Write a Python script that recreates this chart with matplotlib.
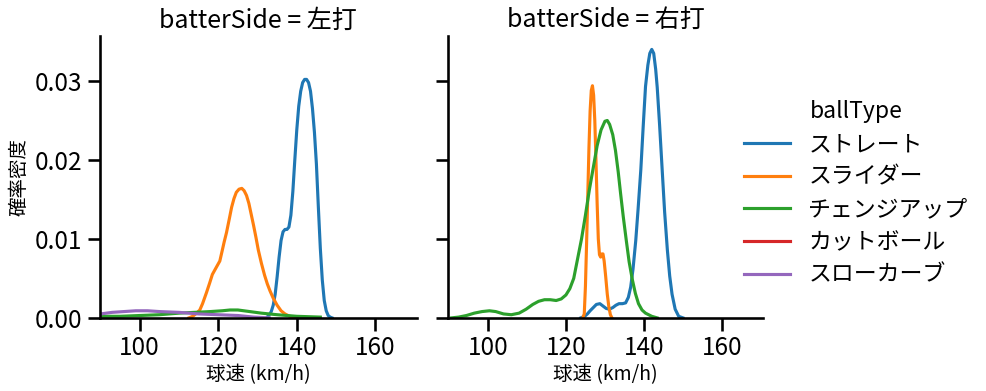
import matplotlib
matplotlib.use("Agg")
import matplotlib.pyplot as plt
from matplotlib.lines import Line2D

plt.rcParams['font.family'] = ['Noto Sans CJK JP', 'DejaVu Sans']

# ball types and colours (seaborn default palette)
ball_types = ['ストレート', 'スライダー', 'チェンジアップ', 'カットボール', 'スローカーブ']
colors = ['#1f77b4', '#ff7f0e', '#2ca02c', '#d62728', '#9467bd']

# density curves: left-handed batters
left_straight_x = [132.3, 133.0, 133.5, 134.0, 134.5, 135.0, 135.5, 136.0, 136.5, 137.0, 137.5, 138.0, 138.5,
                   139.0, 139.5, 140.0, 140.5, 141.0, 141.5, 142.0, 142.5, 143.0, 143.5, 144.0, 144.5, 145.0,
                   145.5, 146.0, 146.5, 147.0, 147.5, 148.0, 148.5, 149.0]
left_straight_y = [0.0, 0.0004, 0.0008, 0.0016, 0.0030, 0.0052, 0.0077, 0.0098, 0.0109, 0.0112, 0.0112, 0.0115,
                   0.0130, 0.0160, 0.0200, 0.0238, 0.0268, 0.0287, 0.0298, 0.0302, 0.0302, 0.0298, 0.0287, 0.0265,
                   0.0235, 0.0195, 0.0140, 0.0088, 0.0048, 0.0022, 0.0009, 0.0003, 0.0001, 0.0]
left_slider_x = [112.5, 113.5, 114.5, 115.3, 116.0, 117.0, 117.8, 118.5, 119.5, 120.4, 121.0, 121.5, 122.1, 122.8,
                 123.4, 124.0, 124.6, 125.3, 126.0, 126.6, 127.2, 127.8, 128.4, 129.0, 129.6, 130.2, 131.0,
                 131.8, 132.5, 133.2, 134.0, 135.0, 136.0, 137.0, 138.2, 140.0]
left_slider_y = [0.0, 0.0002, 0.0006, 0.0010, 0.0018, 0.0032, 0.0044, 0.0055, 0.0064, 0.0072, 0.0085, 0.0096,
                 0.0108, 0.0125, 0.0140, 0.0151, 0.0159, 0.0163, 0.0164, 0.0161, 0.0155, 0.0145, 0.0131, 0.0117,
                 0.0102, 0.0086, 0.0069, 0.0054, 0.0043, 0.0034, 0.0025, 0.0016, 0.0009, 0.0005, 0.0002, 0.0]
left_change_x = [90, 95, 100, 105, 110, 114, 118, 121, 123, 125, 128, 131, 135, 140, 146]
left_change_y = [0.0002, 0.0002, 0.0003, 0.0004, 0.0006, 0.0007, 0.0008, 0.0009, 0.0010, 0.0010, 0.0008, 0.0006,
                 0.0004, 0.0002, 0.0001]
left_curve_x = [90, 93, 96, 99, 102, 105, 110, 115, 120, 125, 129, 133]
left_curve_y = [0.0005, 0.0007, 0.0008, 0.0009, 0.0009, 0.0008, 0.0007, 0.0005, 0.0004, 0.0003, 0.0001, 0.0]

# right-handed batters
right_straight_x = [123.8, 124.8, 125.5, 126.2, 127.0, 127.8, 128.7, 129.5, 130.3, 131.1, 132.0, 132.8, 133.6,
                    134.5, 135.3, 136.0, 136.6, 137.2, 137.9, 138.5, 139.2, 139.8, 140.4, 141.0, 141.5, 142.0,
                    142.5, 143.0, 143.4, 144.0, 144.7, 145.3, 146.0, 146.6, 147.2, 148.0, 148.9, 150.0]
right_straight_y = [0.0, 0.0002, 0.0005, 0.0009, 0.0013, 0.0017, 0.0018, 0.0015, 0.0012, 0.0011, 0.0013, 0.0016,
                    0.0018, 0.0018, 0.0019, 0.0026, 0.0039, 0.0062, 0.0098, 0.0138, 0.0188, 0.0242, 0.0293, 0.0320,
                    0.0335, 0.0340, 0.0335, 0.0315, 0.0292, 0.0245, 0.0185, 0.0134, 0.0086, 0.0053, 0.0030, 0.0011,
                    0.0002, 0.0]
right_slider_x = [124.3, 124.7, 125.0, 125.3, 125.6, 125.9, 126.2, 126.5, 126.8, 127.1, 127.4, 127.7, 128.0,
                  128.3, 128.6, 128.9, 129.2, 129.5, 129.8, 130.2, 130.6, 131.0, 131.4, 131.8]
right_slider_y = [0.0, 0.0005, 0.0040, 0.0095, 0.0155, 0.0215, 0.0262, 0.0288, 0.0294, 0.0282, 0.0250, 0.0200,
                  0.0145, 0.0100, 0.0080, 0.0077, 0.0081, 0.0081, 0.0072, 0.0052, 0.0030, 0.0014, 0.0004, 0.0]
right_change_x = [90.7, 92.5, 94.5, 96.5, 98.5, 100.4, 102.0, 104.0, 106.0, 108.0, 109.8, 111.5, 113.0, 114.5,
                  116.0, 117.5, 118.8, 120.0, 121.0, 122.0, 123.0, 124.0, 125.0, 126.0, 127.0, 128.0, 129.0,
                  130.0, 130.6, 131.2, 132.0, 132.7, 133.4, 134.0, 134.7, 135.5, 136.2, 137.0, 137.8, 138.6,
                  139.5, 140.4, 142.0, 143.4]
right_change_y = [0.0, 0.0001, 0.0003, 0.0006, 0.0008, 0.0009, 0.0008, 0.0005, 0.0004, 0.0006, 0.0011, 0.0017,
                  0.0021, 0.0023, 0.0023, 0.0022, 0.0024, 0.0029, 0.0037, 0.0050, 0.0075, 0.0100, 0.0130, 0.0162,
                  0.0190, 0.0218, 0.0238, 0.0249, 0.0250, 0.0245, 0.0232, 0.0212, 0.0185, 0.0158, 0.0128, 0.0097,
                  0.0071, 0.0049, 0.0031, 0.0018, 0.0010, 0.0006, 0.0002, 0.0]

panels = [
    ('batterSide = 左打', [(left_straight_x, left_straight_y, 0), (left_slider_x, left_slider_y, 1),
                        (left_change_x, left_change_y, 2), (left_curve_x, left_curve_y, 4)]),
    ('batterSide = 右打', [(right_straight_x, right_straight_y, 0), (right_slider_x, right_slider_y, 1),
                        (right_change_x, right_change_y, 2)]),
]

fig = plt.figure(figsize=(9.87, 3.91), dpi=100)
ax_left = fig.add_axes([0.101, 0.187, 0.321, 0.721])
ax_right = fig.add_axes([0.454, 0.187, 0.319, 0.721], sharey=ax_left)

for ax, (title, curves) in zip([ax_left, ax_right], panels):
    for xs, ys, k in curves:
        ax.plot(xs, ys, color=colors[k], lw=2.25, solid_joinstyle='round')
    ax.set_title(title, fontsize=18)
    ax.set_xlim(89.8, 170.5)
    ax.set_xticks([100, 120, 140, 160])
    ax.set_xlabel('球速 (km/h)', fontsize=14, labelpad=2)
    for s in ['top', 'right']:
        ax.spines[s].set_visible(False)
    for s in ['left', 'bottom']:
        ax.spines[s].set_linewidth(1.875)
    ax.tick_params(width=1.875, length=9, labelsize=17.5)

ax_left.set_ylim(0, 0.0357)
ax_left.set_yticks([0.0, 0.01, 0.02, 0.03])
ax_left.set_yticklabels(['0.00', '0.01', '0.02', '0.03'])
ax_left.set_ylabel('確率密度', fontsize=14)
ax_right.tick_params(labelleft=False)

handles = [Line2D([], [], color=c, lw=2.25) for c in colors]
fig.legend(handles, ball_types, title='ballType', loc='center left',
           bbox_to_anchor=(0.733, 0.505), frameon=False, fontsize=16.5, title_fontsize=16.5,
           labelspacing=0.42)

fig.savefig('out.png', dpi=100)
